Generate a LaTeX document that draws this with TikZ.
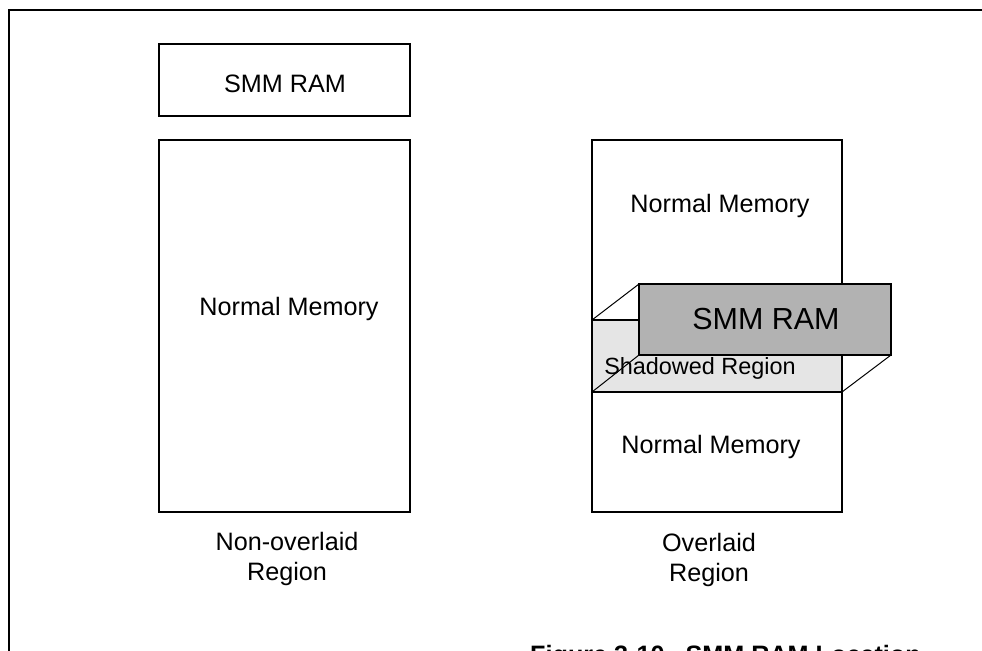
\documentclass[tikz,border=0pt]{standalone}
\usepackage{fontspec}
\setmainfont{Liberation Sans}
\usepackage{tikz}
\usetikzlibrary{calc}
\def\bodyfont{\fontsize{21.5}{26}\selectfont}

\begin{document}
\begin{tikzpicture}[x=0.03cm, y=-0.03cm]
		%%%%% START %%%%%
		\useasboundingbox (0, 0) rectangle (982, 651);
		\clip (0, 0) rectangle (982, 651);
		
		\draw[line width=0.8mm] (982, 10) -- (9, 10) -- (9, 660);
		
		\draw[line width=0.7mm] (159, 44) rectangle (410, 116);
		\draw[line width=0.7mm] (159, 140) rectangle (410, 512);
		
		\draw[line width=0.7mm] (592, 140) rectangle (842, 512);
		\draw[line width=0.7mm, fill=black!10] (592, 320) rectangle (842, 392);
		\draw[line width=0.3mm] (592, 320) -- (639, 284);
		\draw[line width=0.3mm] (592, 392) -- (639, 355);
		\draw[line width=0.3mm] (842, 392) -- (891, 355);
		\draw[line width=0.3mm] (842, 320) -- (891, 284);
		\draw[line width=0.7mm, fill=black!30] (639, 284) rectangle (891, 355);
		
		\node[anchor=base, font=\bodyfont] (smmleft) at (285, 93) {SMM RAM};
		\node[anchor=base, font=\bodyfont] (normleft) at (289, 315) {Normal Memory};
		\node[anchor=base, font=\bodyfont] (nonover) at (287, 550) {Non-overlaid};
		\node[anchor=base, font=\bodyfont] (nonreg) at (287, 580) {Region};
		
		\node[anchor=base, font=\bodyfont] (normtop) at (720, 213) {Normal Memory};
		\node[anchor=base, font=\fontsize{26}{30}\selectfont] (smmright) at (766, 329) {SMM RAM};
		\node[anchor=base, font=\fontsize{20}{24}\selectfont] (shadow) at (700, 374) {Shadowed Region};
		\node[anchor=base, font=\bodyfont] (normbot) at (711, 453) {Normal Memory};
		\node[anchor=base, font=\bodyfont] (over) at (709, 551) {Overlaid};
		\node[anchor=base, font=\bodyfont] (overreg) at (709, 581) {Region};
		
		\node[anchor=base west, inner sep=0, font=\bodyfont\bfseries] (caption) at (530, 663) {Figure 3-10.~~SMM RAM Location};
		%%%%% END %%%%%
	\end{tikzpicture}
\end{document}
